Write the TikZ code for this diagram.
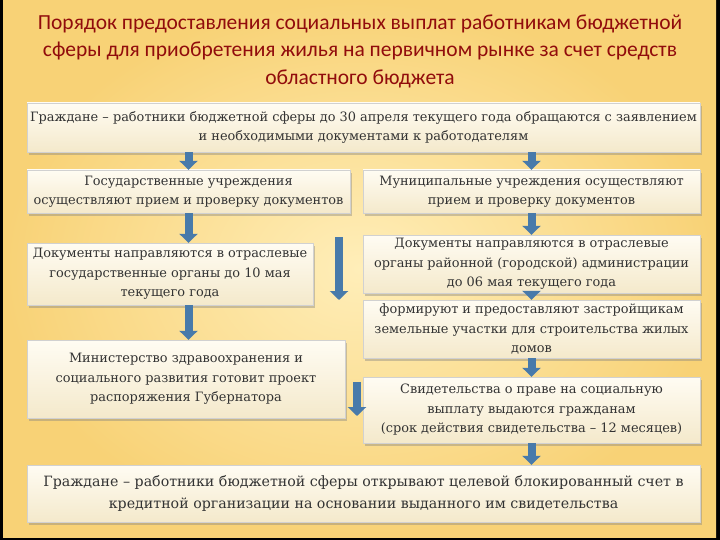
\documentclass[tikz,border=0pt]{standalone}
\usepackage{fontspec}
\setmainfont{DejaVu Serif}
\newfontfamily\titelschrift{Carlito}
\usetikzlibrary{arrows.meta,shadows,positioning}
\definecolor{titelrot}{RGB}{145,12,12}
\definecolor{pfeilblau}{RGB}{72,122,170}
\definecolor{hginnen}{RGB}{255,238,185}
\definecolor{hgaussen}{RGB}{248,210,118}
\definecolor{kastenoben}{RGB}{255,252,243}
\definecolor{kastenunten}{RGB}{244,233,203}

\begin{document}
\begin{tikzpicture}[x=1pt, y=-1pt,
		kasten/.style={draw=black!18, top color=kastenoben, bottom color=kastenunten,
			drop shadow={shadow xshift=2pt, shadow yshift=-3pt, opacity=0.4},
			align=center, inner sep=2pt, text=black!80,
			font=\fontsize{12.9}{19.5}\selectfont},
		fluss/.style={pfeilblau, line width=8pt, -{Triangle[width=18pt,length=9pt]}},
		font=\fontsize{12.9}{19.5}\selectfont]
	% Hintergrund
	\fill[black] (0,0) rectangle (720,540);
	\shade[inner color=hginnen, outer color=hgaussen] (3,0) rectangle (716,537);
	% Titel
	\node[align=center, text=titelrot, font=\titelschrift\fontsize{21.5}{27.5}\selectfont] (titel) at (360,51)
		{Порядок предоставления социальных выплат работникам бюджетной\\
		 сферы для приобретения жилья на первичном рынке за счет средств\\
		 областного бюджета};
	% Kästen
	\node[kasten, minimum width=673pt, minimum height=49pt] (buerger) at (363.5,127.5)
		{Граждане – работники бюджетной сферы до 30 апреля текущего года обращаются с заявлением\\
		 и необходимыми документами к работодателям};
	\node[kasten, minimum width=323pt, minimum height=43pt] (staat) at (188.5,191.5)
		{Государственные учреждения\\ осуществляют прием и проверку документов};
	\node[kasten, minimum width=337pt, minimum height=43pt] (kommune) at (531.5,191.5)
		{Муниципальные учреждения осуществляют\\ прием и проверку документов};
	\node[kasten, minimum width=286pt, minimum height=62pt] (staatorg) at (170,274)
		{Документы направляются в отраслевые\\ государственные органы до 10 мая\\ текущего года};
	\node[kasten, minimum width=337pt, minimum height=58pt] (kommorg) at (531.5,264)
		{Документы направляются в отраслевые\\ органы районной (городской) администрации\\ до 06 мая текущего года};
	\node[kasten, minimum width=337pt, minimum height=58pt] (grund) at (531.5,329)
		{формируют и предоставляют застройщикам\\ земельные участки для строительства жилых\\ домов};
	\node[kasten, minimum width=318pt, minimum height=78pt] (ministerium) at (186,379)
		{Министерство здравоохранения и\\ социального развития готовит проект\\ распоряжения Губернатора};
	\node[kasten, minimum width=337pt, minimum height=66pt] (zeugnis) at (531.5,410)
		{Свидетельства о праве на социальную\\ выплату выдаются гражданам\\ (срок действия свидетельства – 12 месяцев)};
	\node[kasten, minimum width=673pt, minimum height=57pt, font=\fontsize{14.2}{22}\selectfont] (konto) at (363.5,493.5)
		{Граждане – работники бюджетной сферы открывают целевой блокированный счет в\\
		 кредитной организации на основании выданного им свидетельства};
	% freie Pfeile
	\coordinate (frei1a) at (339,237);
	\coordinate (frei1b) at (339,300);
	\coordinate (frei2a) at (357,382);
	\coordinate (frei2b) at (357,416);
	% Pfeile
	\draw[fluss] (buerger.south -| staat.north) -- (staat.north);
	\draw[fluss] (buerger.south -| kommune.north) -- (kommune.north);
	\draw[fluss] (staat.south) -- (staatorg.north -| staat.south);
	\draw[fluss] (staatorg.south -| staat.south) -- (ministerium.north -| staat.south);
	\draw[fluss] (kommune.south) -- (kommorg.north);
	\draw[fluss] (kommorg.south) -- (grund.north);
	\draw[fluss] (grund.south) -- (zeugnis.north);
	\draw[fluss] (zeugnis.south) -- (konto.north -| zeugnis.south);
	\draw[fluss] (frei1a) -- (frei1b);
	\draw[fluss] (frei2a) -- (frei2b);
\end{tikzpicture}
\end{document}
